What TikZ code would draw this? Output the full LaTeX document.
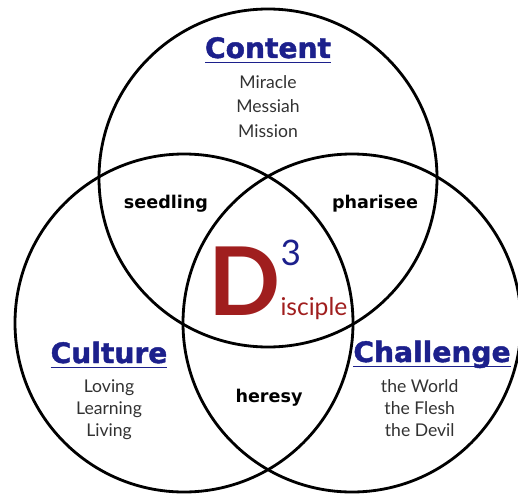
\documentclass[tikz,border=0pt]{standalone}
\usepackage{fontspec}
\setmainfont{Lato}
\newfontfamily\heavyfont{DejaVu Sans}
\newfontfamily\blackfont{DejaVu Sans}[BoldFeatures={FakeBold=1.6}]
\usetikzlibrary{positioning}
\definecolor{navyblue}{RGB}{28,32,140}
\definecolor{discred}{RGB}{160,30,30}
\definecolor{listgray}{RGB}{50,50,50}
\newcommand{\headword}[1]{\setbox0\hbox{#1}\rlap{\rule[-3pt]{\wd0}{0.8pt}}\box0}

\begin{document}
\begin{tikzpicture}[x=0.2mm,y=-0.2mm]
            \tikzstyle{ring} = [line width=1.6pt]
            \tikzstyle{head} = [anchor=base, inner sep=0pt, text=navyblue, font=\blackfont\bfseries\fontsize{16}{18}\selectfont]
            \tikzstyle{sub} = [align=center, inner sep=0pt, text=listgray]
            \tikzstyle{overlap} = [anchor=base, inner sep=0pt, font=\heavyfont\bfseries\fontsize{10}{12}\selectfont]

            \useasboundingbox (0,0) rectangle (518,493);

            \coordinate (topc) at (268,178);
            \coordinate (leftc) at (184,323);
            \coordinate (rightc) at (352,323);

            \draw [ring] (topc) circle [radius=33.8mm];
            \draw [ring] (leftc) circle [radius=33.8mm];
            \draw [ring] (rightc) circle [radius=33.8mm];

            \node[head] (content) at (268,58) {\headword{Content}};
            \node[head] (culture) at (109,363) {\headword{Culture}};
            \node[head] (challenge) at (432,362) {\headword{Challenge}};

            \node[sub, font=\fontsize{10}{14}\selectfont, below=6.5pt of content] (contentlist) {Miracle\\Messiah\\Mission};
            \node[sub, font=\fontsize{10}{12.5}\selectfont, below=6pt of culture] (culturelist) {Loving\\Learning\\Living};
            \node[sub, font=\fontsize{10}{12.5}\selectfont, below=6pt of challenge, xshift=-7pt] (challengelist) {the World\\the Flesh\\the Devil};

            \node[overlap] (seedling) at (166,208) {seedling};
            \node[overlap] (pharisee) at (375,208) {pharisee};
            \node[overlap] (heresy) at (269,402) {heresy};

            \node[anchor=base west, inner sep=0pt, text=discred] (disciple) at (208,315)
                {{\bfseries\fontsize{54}{54}\selectfont D}\rlap{\raisebox{28pt}{\color{navyblue}\fontsize{20}{20}\selectfont 3}}{\fontsize{14}{14}\selectfont isciple}};
        \end{tikzpicture}
\end{document}
